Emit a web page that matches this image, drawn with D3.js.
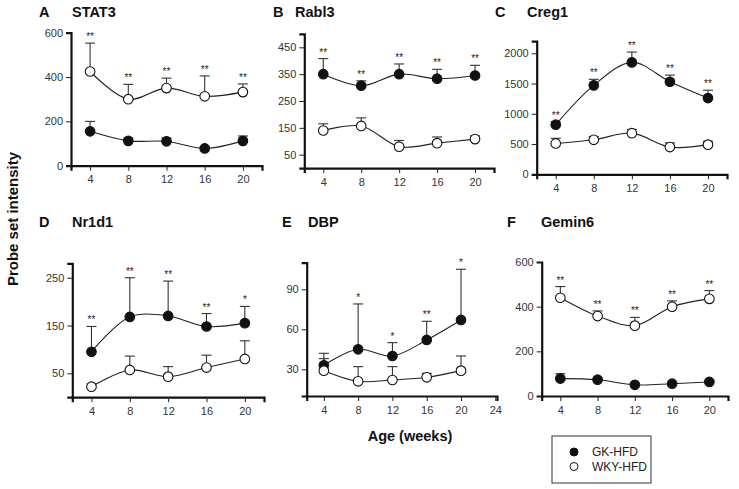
<!DOCTYPE html>
<html>
<head>
<meta charset="utf-8">
<script src="https://cdn.jsdelivr.net/npm/d3@7"></script>
<style>
  body { margin: 0; background: #fff; }
  svg { display: block; font-family: "Liberation Sans", Arial, sans-serif; }
  .tick text { fill: #333; font-size: 11px; }
</style>
</head>
<body>
<svg width="739" height="489"></svg>
<script>
// data
var ages = [4, 8, 12, 16, 20];
var panelLetters = ["A", "B", "C", "D", "E", "F"];
var panelGenes = ["STAT3", "Rabl3", "Creg1", "Nr1d1", "DBP", "Gemin6"];
var yDomains = [[0, 600], [0, 500], [0, 2200], [0, 280], [10, 110], [0, 600]];
var yTicks = [[0, 200, 400, 600], [50, 150, 250, 350, 450], [0, 500, 1000, 1500, 2000],
              [50, 150, 250], [30, 60, 90], [0, 200, 400, 600]];
var xDomains = [[2, 22], [2, 22], [2, 22], [2, 22], [2, 24.2], [2, 22]];
var xTicks = [[4, 8, 12, 16, 20], [4, 8, 12, 16, 20], [4, 8, 12, 16, 20],
              [4, 8, 12, 16, 20], [4, 8, 12, 16, 20, 24], [4, 8, 12, 16, 20]];

var gkMean   = [[155, 112, 110, 78, 112], [350, 307, 350, 333, 345], [820, 1470, 1850, 1530, 1260],
                [95, 168, 170, 148, 155], [33, 45, 40, 52, 67], [78, 73, 50, 55, 63]];
var gkUpper  = [[200, 125, 125, 85, 134], [408, 325, 388, 368, 383], [870, 1570, 2020, 1640, 1390],
                [148, 250, 243, 175, 190], [42, 79, 50, 66, 105], [100, 80, 55, 60, 72]];
var wkyMean  = [[425, 300, 350, 313, 332], [140, 157, 80, 93, 108], [510, 570, 680, 450, 490],
                [22, 57, 43, 62, 80], [29, 21, 22, 24, 29], [440, 358, 315, 400, 435]];
var wkyUpper = [[553, 367, 395, 405, 369], [165, 187, 103, 116, 120], [595, 625, 742, 520, 545],
                [28, 86, 64, 88, 118], [38, 32, 32, 27, 40], [490, 381, 352, 426, 472]];
var stars = [["**", "**", "**", "**", "**"], ["**", "**", "**", "**", "**"], ["**", "**", "**", "**", "**"],
             ["**", "**", "**", "**", "*"], ["", "*", "*", "**", "*"], ["**", "**", "**", "**", "**"]];

var legendLabels = ["GK-HFD", "WKY-HFD"];

// pixel frames of each panel (axis corners)
var frames = [
  {x0: 71, x1: 262, y0: 32.7, y1: 165.7, lx: 39, gx: 72, ty: 17},
  {x0: 304.3, x1: 494, y0: 33.9, y1: 168.1, lx: 273, gx: 295, ty: 17},
  {x0: 536.7, x1: 727, y0: 41.2, y1: 174.3, lx: 495, gx: 527, ty: 17},
  {x0: 72.3, x1: 264, y0: 263.4, y1: 397.2, lx: 39, gx: 72, ty: 227},
  {x0: 306.7, x1: 497, y0: 262.6, y1: 396, lx: 282, gx: 308, ty: 227},
  {x0: 541.7, x1: 728, y0: 262, y1: 396, lx: 507, gx: 541, ty: 227}
];

var svg = d3.select("svg");

panelLetters.forEach(function(letter, i) {
  var f = frames[i];
  var x = d3.scaleLinear().domain(xDomains[i]).range([f.x0, f.x1]);
  var y = d3.scaleLinear().domain(yDomains[i]).range([f.y1, f.y0]);
  var g = svg.append("g");

  var line = d3.line()
    .x(function(d) { return x(d.age); })
    .y(function(d) { return y(d.v); })
    .curve(d3.curveCatmullRom);

  var series = [
    {mean: gkMean[i], up: gkUpper[i], fill: "#111"},
    {mean: wkyMean[i], up: wkyUpper[i], fill: "#fff"}
  ];

  // axes
  var xAxis = g.append("g").attr("transform", "translate(0," + f.y1 + ")")
    .call(d3.axisBottom(x).tickValues(xTicks[i]).tickFormat(d3.format("d"))
      .tickSizeOuter(0).tickSize(5).tickPadding(5));
  var yAxis = g.append("g").attr("transform", "translate(" + f.x0 + ",0)")
    .call(d3.axisLeft(y).tickValues(yTicks[i]).tickFormat(d3.format("d"))
      .tickSizeOuter(0).tickSize(5).tickPadding(3));
  [xAxis, yAxis].forEach(function(a) {
    a.select(".domain").attr("stroke", "#111").attr("stroke-width", 2.2);
    a.selectAll(".tick line").attr("stroke", "#222").attr("stroke-width", 1);
  });

  series.forEach(function(s) {
    var pts = ages.map(function(a, k) { return {age: a, v: s.mean[k], up: s.up[k]}; });
    g.append("path").datum(pts)
      .attr("d", line).attr("fill", "none").attr("stroke", "#222").attr("stroke-width", 1.1);
    var eb = g.selectAll(null).data(pts).enter().append("g").attr("stroke", "#333").attr("stroke-width", 1.1);
    eb.append("line")
      .attr("x1", function(d) { return x(d.age); }).attr("x2", function(d) { return x(d.age); })
      .attr("y1", function(d) { return y(d.v); }).attr("y2", function(d) { return y(d.up); });
    eb.append("line")
      .attr("x1", function(d) { return x(d.age) - 5; }).attr("x2", function(d) { return x(d.age) + 5; })
      .attr("y1", function(d) { return y(d.up); }).attr("y2", function(d) { return y(d.up); });
  });

  series.forEach(function(s) {
    g.selectAll(null).data(ages).enter().append("circle")
      .attr("cx", function(a) { return x(a); })
      .attr("cy", function(a, k) { return y(s.mean[k]); })
      .attr("r", 4.8)
      .attr("fill", s.fill).attr("stroke", "#111").attr("stroke-width", 1.1);
  });

  // significance marks above the higher error bar
  g.append("g").attr("opacity", 0.999)
    .selectAll("text").data(ages).enter().append("text")
    .attr("x", function(a) { return x(a); })
    .attr("y", function(a, k) { return y(Math.max(gkUpper[i][k], wkyUpper[i][k])) - 3; })
    .attr("text-anchor", "middle").attr("font-size", 10).attr("fill", "#222")
    .text(function(a, k) { return stars[i][k]; });

  svg.append("text").attr("x", f.lx).attr("y", f.ty)
    .attr("font-size", 14.5).attr("font-weight", "bold").attr("fill", "#111").text(letter);
  svg.append("text").attr("x", f.gx).attr("y", f.ty)
    .attr("font-size", 14.5).attr("font-weight", "bold").attr("fill", "#111").text(panelGenes[i]);
});

svg.append("text")
  .attr("transform", "translate(18,219) rotate(-90)")
  .attr("text-anchor", "middle").attr("font-size", 15).attr("font-weight", "bold").attr("fill", "#111")
  .text("Probe set intensity");

svg.append("text")
  .attr("x", 410).attr("y", 441)
  .attr("text-anchor", "middle").attr("font-size", 14.5).attr("font-weight", "bold").attr("fill", "#111")
  .text("Age (weeks)");

// legend
var leg = svg.append("g");
leg.append("rect").attr("x", 552).attr("y", 436).attr("width", 99).attr("height", 47)
  .attr("fill", "#fff").attr("stroke", "#555").attr("stroke-width", 1.2);
leg.selectAll(null).data(legendLabels).enter().append("circle")
  .attr("cx", 574).attr("cy", function(d, k) { return 452 + k * 14.5; })
  .attr("r", 4).attr("stroke", "#111").attr("stroke-width", 1)
  .attr("fill", function(d, k) { return k === 0 ? "#111" : "#fff"; });
leg.selectAll(null).data(legendLabels).enter().append("text")
  .attr("x", 592).attr("y", function(d, k) { return 456 + k * 14.5; })
  .attr("font-size", 12).attr("fill", "#222")
  .text(function(d) { return d; });
</script>
</body>
</html>
